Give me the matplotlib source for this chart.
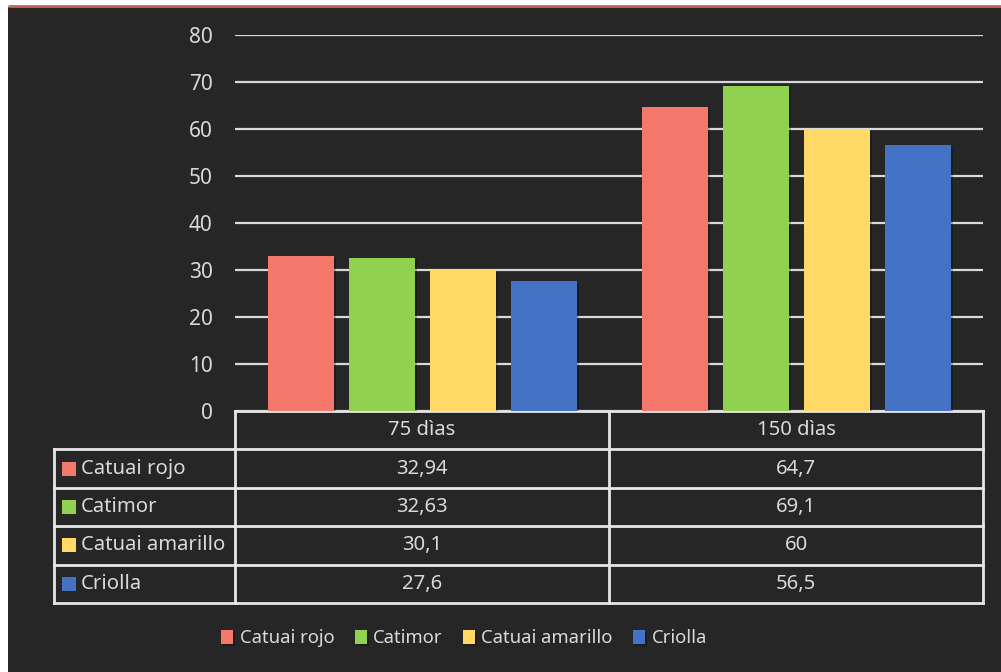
import numpy as np
import matplotlib
matplotlib.use("Agg")
import matplotlib.pyplot as plt
import matplotlib.patheffects as pe
from matplotlib.transforms import blended_transform_factory
from matplotlib.patches import Rectangle

plt.rcParams['font.family'] = ['Noto Sans', 'DejaVu Sans']

categories = ['75 dìas', '150 dìas']
varieties = ['Catuai rojo', 'Catimor', 'Catuai amarillo', 'Criolla']
values = {
    'Catuai rojo': [32.94, 64.7],
    'Catimor': [32.63, 69.1],
    'Catuai amarillo': [30.1, 60],
    'Criolla': [27.6, 56.5],
}
colors = ['#F4776B', '#92D050', '#FFD966', '#4472C4']
yticks = [0, 10, 20, 30, 40, 50, 60, 70, 80]

BG = '#262626'
FG = '#D9D9D9'
FS = 14.6
W, H = 1001, 672

fig = plt.figure(figsize=(W / 100, H / 100), dpi=100, facecolor='white')

# pixel-space canvas for the frame and the data table
cv = fig.add_axes([0, 0, 1, 1], zorder=0)
cv.set_xlim(0, W)
cv.set_ylim(H, 0)
cv.axis('off')
cv.add_patch(Rectangle((8, 7), W - 8, H - 7, facecolor=BG, edgecolor='none'))
cv.plot([8, W], [6, 6], color='#C8625A', lw=2, solid_capstyle='butt')

left, right, top, bottom = 235, 983, 35, 411
ax = fig.add_axes([left / W, 1 - bottom / H, (right - left) / W, (bottom - top) / H], zorder=2)
ax.patch.set_visible(False)

x = np.arange(len(categories))
bw = 66 / 374
step = 81 / 374
for i, name in enumerate(varieties):
    bars = ax.bar(x + (i - 1.5) * step, values[name], bw, color=colors[i], zorder=3, label=name)
    for b in bars:
        b.set_path_effects([pe.SimplePatchShadow(offset=(1.5, -1.5), shadow_rgbFace='black', alpha=0.25),
                            pe.Normal()])

ax.set_xlim(-0.5, len(categories) - 0.5)
ax.set_ylim(0, 80)
ax.set_yticks(yticks)
ax.set_xticks([])
ax.grid(axis='y', color=FG, lw=1.6, zorder=1)
for s in ax.spines.values():
    s.set_visible(False)
ax.tick_params(axis='y', length=0, pad=16, labelsize=15, labelcolor=FG)

# data table below the plot
tr = blended_transform_factory(ax.transData, cv.transData)
row_h = 38.4
n_rows = len(varieties)
tab_bottom = bottom + row_h * (n_rows + 1)
lw = 2
lc = '#E6E6E6'
xl, xr = -0.5, len(categories) - 0.5
for r in range(n_rows + 2):
    y = bottom + r * row_h
    cv.plot([xl, xr], [y, y], color=lc, lw=lw, transform=tr, zorder=4)
for r in range(1, n_rows + 2):
    y = bottom + r * row_h
    cv.plot([54, left], [y, y], color=lc, lw=lw, zorder=4)
cv.plot([54, 54], [bottom + row_h, tab_bottom], color=lc, lw=lw, zorder=4)
for c in range(len(categories) + 1):
    cv.plot([c - 0.5, c - 0.5], [bottom, tab_bottom], color=lc, lw=lw, transform=tr, zorder=4)

for c, cat in enumerate(categories):
    cv.text(c, bottom + row_h / 2, cat, color=FG, fontsize=FS, ha='center', va='center', transform=tr)
for r, name in enumerate(varieties):
    yc = bottom + (r + 1.5) * row_h
    cv.add_patch(Rectangle((62, yc - 7), 14, 14, facecolor=colors[r], edgecolor='none', zorder=5))
    cv.text(81, yc, name, color=FG, fontsize=FS, ha='left', va='center')
    for c, v in enumerate(values[name]):
        cv.text(c, yc, f'{v:g}'.replace('.', ','), color=FG, fontsize=FS,
                ha='center', va='center', transform=tr)

handles, labels = ax.get_legend_handles_labels()
fig.legend(handles, labels, loc='center', bbox_to_anchor=(464 / W, 1 - 638 / H), ncol=4,
           frameon=False, fontsize=13.3, labelcolor=FG, handlelength=0.65, handleheight=0.8,
           handletextpad=0.35, columnspacing=1.1)

fig.savefig('out.png', dpi=100, facecolor=fig.get_facecolor())
